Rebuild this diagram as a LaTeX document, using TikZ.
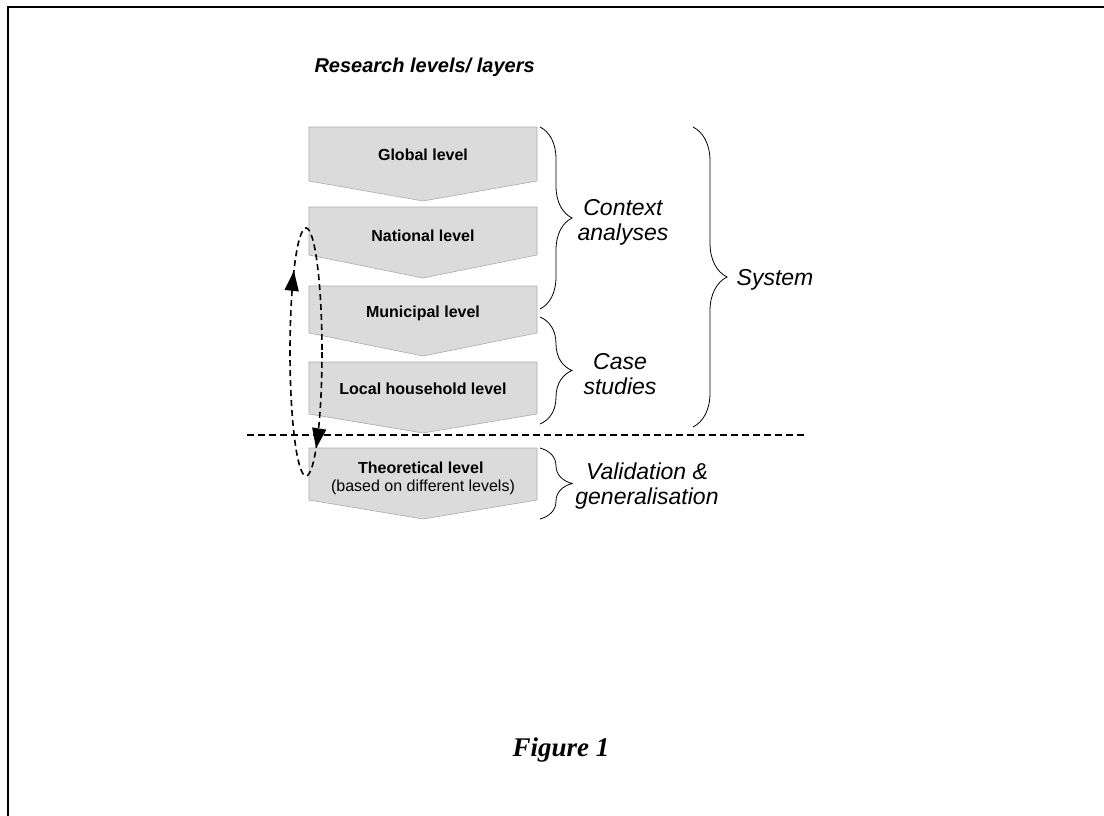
\documentclass[tikz,border=0pt]{standalone}
\usepackage{fontspec}
\setmainfont{Liberation Sans}
\newfontfamily\figfont{Liberation Serif}
\usetikzlibrary{arrows.meta,decorations.pathreplacing,decorations.markings}

\begin{document}
\begin{tikzpicture}[x=1pt, y=-1pt,
    levelbox/.style={fill=gray!28, draw=gray!65, line width=0.6pt},
    leveltext/.style={font=\fontsize{16}{19}\selectfont\bfseries, align=center},
    bracetext/.style={font=\fontsize{23}{25}\selectfont\itshape, align=center},
    levelbrace/.style={decorate, decoration={brace, amplitude=#1}, line width=0.8pt},
    levelbrace/.default=32pt,
    sepline/.style={dash pattern=on 7pt off 4pt, line width=1.4pt},
    loopline/.style={dash pattern=on 6pt off 4pt, line width=1.6pt,
      postaction={decorate, decoration={markings,
        mark=at position 0.19 with {\arrow{Triangle[length=20pt, width=14pt]}},
        mark=at position 0.66 with {\arrow{Triangle[length=20pt, width=14pt]}}}}}]
   \useasboundingbox (0,0) rectangle (1104,816);
   \draw[line width=1.8pt] (8,820) -- (8,7) -- (1110,7);

   \node[font=\fontsize{20}{24}\selectfont\bfseries\itshape, anchor=west] (title) at (311,67) {Research levels/ layers};

   % the five levels
   \foreach \nm/\tp/\sd/\tip/\ty/\lbl in
     { glob/127/181/201/155/{Global level},
       natl/207/255/278/236/{National level},
       muni/286/333/356/313/{Municipal level},
       locl/362/414/433/389/{Local household level},
       theo/448/500/519/468/{Theoretical level}
     }
   {
     \filldraw[levelbox] (309,\tp) -- (537,\tp) -- (537,\sd) -- (423,\tip) -- (309,\sd) -- cycle;
     \node[leveltext] (\nm) at (423,\ty) {\lbl};
   }
   \node[font=\fontsize{16}{19}\selectfont] (theonote) at (423,487) {(based on different levels)};

   \coordinate (sepL) at (247,435);
   \coordinate (sepR) at (807,435);
   \draw[sepline] (sepL) -- (sepR);

   \draw[loopline] (306,352) ellipse [x radius=16, y radius=124];

   % braces and their labels
   \draw[levelbrace] (540,127) -- (540,309);
   \draw[levelbrace] (540,317) -- (540,424);
   \draw[levelbrace] (540,448) -- (540,519);
   \draw[levelbrace=34pt] (693,127) -- (693,427);
   \node[bracetext] (ctx) at (623,222) {Context\\analyses};
   \node[bracetext] (case) at (620,374) {Case\\studies};
   \node[bracetext] (valid) at (647,486) {Validation \&\\generalisation};
   \node[bracetext] (sys) at (775,280) {System};

   \node[font=\figfont\fontsize{27}{30}\selectfont\bfseries\itshape] (fig) at (561,750) {Figure 1};
\end{tikzpicture}
\end{document}
